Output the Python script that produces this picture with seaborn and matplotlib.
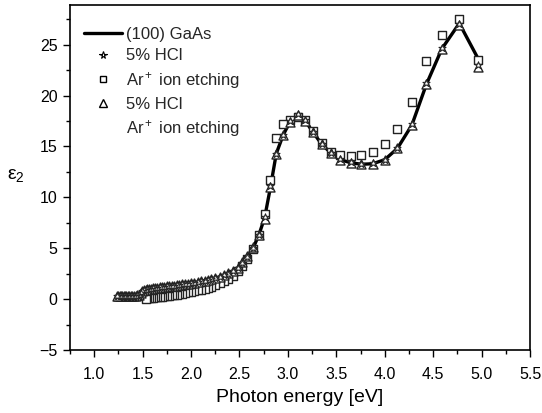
import matplotlib
matplotlib.use("Agg")
import matplotlib.pyplot as plt
import seaborn as sns
import pandas as pd
from matplotlib.lines import Line2D
from matplotlib.ticker import MultipleLocator, FormatStrFormatter

# photon energies (eV), high to low
energy = [4.96, 4.77, 4.59, 4.43, 4.28, 4.13, 4.00, 3.875, 3.76, 3.65, 3.54, 3.44, 3.35, 3.26,
          3.18, 3.10, 3.02, 2.95, 2.88, 2.82, 2.76, 2.70, 2.64, 2.58, 2.53, 2.48, 2.43, 2.38,
          2.34, 2.30, 2.25, 2.21, 2.18, 2.14, 2.10, 2.07, 2.03, 2.00, 1.97, 1.94, 1.91, 1.88,
          1.85, 1.82, 1.80, 1.77, 1.75, 1.72, 1.70, 1.68, 1.65, 1.63, 1.61, 1.59, 1.57, 1.55,
          1.53, 1.51, 1.49, 1.48, 1.46, 1.44, 1.43, 1.41, 1.39, 1.38, 1.36, 1.35, 1.33, 1.32,
          1.31, 1.29, 1.28, 1.27, 1.25, 1.24]

# (100) GaAs reference curve
gaas = [23.7, 27.1, 24.6, 21.1, 17.1, 14.8, 13.7, 13.3, 13.25, 13.4, 13.7, 14.4, 15.2, 16.4,
        17.5, 18.1, 17.4, 16.1, 14.3, 11.0, 8.0, 6.3, 5.0, 4.1, 3.5, 3.05, 2.75, 2.5,
        2.35, 2.2, 2.07, 1.98, 1.9, 1.82, 1.75, 1.68, 1.62, 1.57, 1.52, 1.48, 1.44, 1.4,
        1.36, 1.33, 1.3, 1.27, 1.24, 1.21, 1.18, 1.15, 1.12, 1.09, 1.06, 1.03, 1.0, 0.95,
        0.9, 0.85, 0.75, 0.6, 0.45, 0.36, 0.33, 0.32, 0.31, 0.3, 0.3, 0.3, 0.3, 0.3,
        0.3, 0.3, 0.3, 0.3, 0.3, 0.3]

# 5% HCl
hcl = [23.0, 27.0, 24.7, 21.2, 17.2, 14.8, 13.7, 13.35, 13.3, 13.45, 13.75, 14.4, 15.2, 16.4,
       17.6, 18.2, 17.5, 16.1, 14.3, 11.1, 8.1, 6.3, 5.0, 4.1, 3.5, 3.05, 2.75, 2.5,
       2.35, 2.2, 2.07, 1.98, 1.9, 1.82, 1.75, 1.68, 1.62, 1.57, 1.52, 1.48, 1.44, 1.4,
       1.36, 1.33, 1.3, 1.27, 1.24, 1.21, 1.18, 1.15, 1.12, 1.09, 1.06, 1.03, 1.0, 0.95,
       0.9, 0.85, 0.75, 0.6, 0.45, 0.36, 0.33, 0.32, 0.31, 0.3, 0.3, 0.3, 0.3, 0.3,
       0.3, 0.3, 0.3, 0.3, 0.3, 0.3]

# Ar+ ion etching
energy_ar = energy[:57]
ar = [23.5, 27.5, 26.0, 23.4, 19.4, 16.7, 15.2, 14.5, 14.2, 14.05, 14.2, 14.5, 15.3, 16.5,
      17.6, 17.9, 17.6, 17.2, 15.8, 11.7, 8.4, 6.3, 4.9, 3.9, 3.3, 2.75, 2.3, 2.0,
      1.75, 1.55, 1.35, 1.2, 1.1, 1.0, 0.92, 0.85, 0.78, 0.72, 0.66, 0.6, 0.55, 0.5,
      0.45, 0.41, 0.37, 0.33, 0.3, 0.26, 0.23, 0.2, 0.18, 0.16, 0.14, 0.12, 0.1, 0.08,
      0.05]

# 5% HCl + Ar+ ion etching
hcl_ar = [22.8, 26.9, 24.6, 21.1, 17.1, 14.8, 13.7, 13.3, 13.25, 13.4, 13.7, 14.4, 15.2, 16.4,
          17.5, 18.1, 17.4, 16.1, 14.3, 11.0, 7.9, 6.3, 5.1, 4.2, 3.6, 3.1, 2.8, 2.55,
          2.38, 2.22, 2.08, 1.98, 1.9, 1.82, 1.75, 1.68, 1.62, 1.57, 1.52, 1.48, 1.44, 1.4,
          1.36, 1.33, 1.3, 1.27, 1.24, 1.21, 1.18, 1.15, 1.12, 1.09, 1.06, 1.03, 1.0, 0.95,
          0.9, 0.85, 0.75, 0.6, 0.45, 0.36, 0.33, 0.32, 0.31, 0.3, 0.3, 0.3, 0.3, 0.3,
          0.3, 0.3, 0.3, 0.3, 0.3, 0.3]

labels = ["(100) GaAs", "5% HCl", "Ar$^+$ ion etching", "5% HCl", "Ar$^+$ ion etching"]

sns.set_theme(style="ticks")
plt.rcParams["font.family"] = ["Liberation Sans", "DejaVu Sans"]
plt.rcParams["mathtext.fontset"] = "custom"
plt.rcParams["mathtext.rm"] = "Liberation Sans"
plt.rcParams["mathtext.it"] = "Liberation Sans"

fig = plt.figure(figsize=(5.42, 4.13), dpi=100)
ax = fig.add_axes([70 / 542, 63 / 413, 460 / 542, 345 / 413])

df_line = pd.DataFrame({"E": energy, "eps": gaas})
sns.lineplot(data=df_line, x="E", y="eps", ax=ax, color="black", lw=2.4,
             sort=False, estimator=None, zorder=2)

sns.scatterplot(x=energy_ar, y=ar, ax=ax, marker="s", s=34, facecolor="white",
                edgecolor="#222222", linewidth=1.0, zorder=3)
sns.scatterplot(x=energy, y=hcl_ar, ax=ax, marker="^", s=42, facecolor="white",
                edgecolor="#222222", linewidth=1.0, zorder=4)
sns.scatterplot(x=energy, y=hcl, ax=ax, marker="*", s=30, facecolor="white",
                edgecolor="#222222", linewidth=0.7, zorder=5)

ax.set_xlim(0.75, 5.5)
ax.set_ylim(-5, 28.9)
ax.xaxis.set_major_locator(MultipleLocator(0.5))
ax.xaxis.set_minor_locator(MultipleLocator(0.25))
ax.xaxis.set_major_formatter(FormatStrFormatter("%.1f"))
ax.yaxis.set_major_locator(MultipleLocator(5))
ax.yaxis.set_minor_locator(MultipleLocator(2.5))
ax.tick_params(which="major", direction="out", length=5, width=1, labelsize=11.5, color="black",
               labelcolor="black")
ax.tick_params(axis="x", which="major", pad=7)
ax.tick_params(axis="y", which="major", pad=4)
ax.tick_params(which="minor", direction="out", length=3, width=1, color="black")
for sp in ax.spines.values():
    sp.set_visible(True)
    sp.set_color("black")
    sp.set_linewidth(1.2)

ax.set_xlabel("Photon energy [eV]", fontsize=14, color="black", labelpad=5)
ax.set_ylabel("ε$\\mathregular{_2}$", fontsize=14, color="black", rotation=0)
ax.yaxis.set_label_coords(-0.117, 0.48)

handles = [
    Line2D([], [], color="black", lw=2.4),
    Line2D([], [], ls="none", marker="*", markersize=5.5, markerfacecolor="white",
           markeredgecolor="black", markeredgewidth=0.8),
    Line2D([], [], ls="none", marker="s", markersize=4.5, markerfacecolor="white",
           markeredgecolor="black", markeredgewidth=1.0),
    Line2D([], [], ls="none", marker="^", markersize=5.5, markerfacecolor="white",
           markeredgecolor="black", markeredgewidth=1.0),
    Line2D([], [], ls="none"),
]
leg = ax.legend(handles, labels, loc="upper left", bbox_to_anchor=(0.005, 0.97), frameon=False,
                fontsize=12, handlelength=2.3, handletextpad=0.2, labelspacing=0.38,
                borderaxespad=0.3)

fig.savefig("out.png", dpi=100)
